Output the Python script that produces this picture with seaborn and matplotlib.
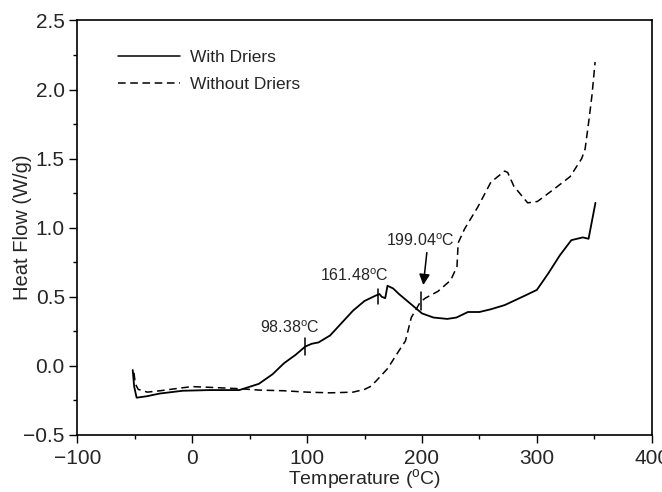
import matplotlib
matplotlib.use("Agg")
import matplotlib.pyplot as plt
import seaborn as sns
import pandas as pd
from matplotlib.ticker import MultipleLocator

# ---- data ----
with_T = [-51.8, -50.5, -48.4, -39.7, -28.2, -8.3, 15, 41, 58, 70, 80, 90, 98.4, 104, 110,
          120, 130, 140, 150, 160, 163, 165, 168, 170, 175, 180, 190, 200, 210, 222, 230,
          240, 250, 260, 272, 290, 300, 310, 320, 330, 340, 345, 348, 351]
with_HF = [-0.03, -0.15, -0.23, -0.22, -0.20, -0.18, -0.175, -0.175, -0.13, -0.06, 0.02, 0.08, 0.14, 0.16, 0.17,
           0.22, 0.31, 0.40, 0.47, 0.51, 0.52, 0.50, 0.49, 0.58, 0.56, 0.52, 0.45, 0.38, 0.35, 0.34, 0.35,
           0.39, 0.39, 0.41, 0.44, 0.51, 0.55, 0.67, 0.80, 0.91, 0.93, 0.92, 1.05, 1.18]

without_T = [-50.7, -49.5, -47, -39, -28, -10, 0, 15, 41, 58, 80, 100, 120, 140, 150, 155, 160,
             170, 180, 185.6, 190.7, 198.4, 202.8, 214, 225, 230.5, 231.5, 237, 248.6, 260, 272,
             274.6, 280, 292, 300.5, 315, 329, 339, 342, 345.5, 348, 350.7]
without_HF = [-0.05, -0.13, -0.17, -0.19, -0.18, -0.16, -0.15, -0.155, -0.165, -0.175, -0.18, -0.19, -0.195, -0.19, -0.17, -0.15, -0.11,
              -0.02, 0.11, 0.18, 0.35, 0.46, 0.49, 0.54, 0.62, 0.72, 0.89, 0.99, 1.15, 1.33, 1.41,
              1.40, 1.30, 1.18, 1.19, 1.28, 1.37, 1.50, 1.57, 1.79, 1.96, 2.20]

series_names = ["With Driers", "Without Driers"]
x_ticks = [-100, 0, 100, 200, 300, 400]
y_ticks = [-0.5, 0.0, 0.5, 1.0, 1.5, 2.0, 2.5]

annot_T = [98.38, 161.48, 199.04]
annot_labels = ["98.38$^{\\rm o}$C", "161.48$^{\\rm o}$C", "199.04$^{\\rm o}$C"]
mark_lo = [0.08, 0.45, 0.405]
mark_hi = [0.20, 0.56, 0.535]
label_T = [85, 141, 198.5]
label_HF = [0.275, 0.65, 0.905]
arrow_from = (204.5, 0.84)
arrow_to = (200.9, 0.565)

# ---- style ----
sns.set_style("ticks")
plt.rcParams["font.family"] = ["Liberation Sans", "DejaVu Sans"]
plt.rcParams["mathtext.fontset"] = "custom"
plt.rcParams["mathtext.rm"] = "Liberation Sans"
plt.rcParams["mathtext.it"] = "Liberation Sans:italic"

df1 = pd.DataFrame({"T": with_T, "HF": with_HF, "series": series_names[0]})
df2 = pd.DataFrame({"T": without_T, "HF": without_HF, "series": series_names[1]})
df = pd.concat([df1, df2], ignore_index=True)

fig = plt.figure(figsize=(6.62, 4.92), dpi=100)
ax = fig.add_axes([0.1168, 0.1159, 0.8677, 0.8425])

sns.lineplot(data=df, x="T", y="HF", hue="series", style="series",
             palette=["black", "black"], dashes=[(None, None), (5, 3)],
             sort=False, estimator=None, ax=ax, linewidth=1.3)

lines = ax.get_lines()
lines[0].set_linestyle("-")
lines[1].set_linestyle((0, (5, 3)))
lines[1].set_linewidth(1.1)

ax.set_xlim(-100, 400)
ax.set_ylim(-0.5, 2.5)
ax.set_xticks(x_ticks)
ax.set_yticks(y_ticks)
ax.xaxis.set_minor_locator(MultipleLocator(50))
ax.yaxis.set_minor_locator(MultipleLocator(0.25))
ax.tick_params(axis="both", which="major", labelsize=15, length=6, width=1, direction="out", color="black")
ax.tick_params(axis="x", which="major", pad=4)
ax.tick_params(axis="y", which="major", pad=3)
ax.tick_params(axis="both", which="minor", length=3, width=1, direction="out", color="black")
for s in ax.spines.values():
    s.set_linewidth(1.2)
    s.set_color("black")

ax.set_xlabel("Temperature ($^{\\rm o}$C)", fontsize=14)
ax.xaxis.set_label_coords(0.5, -0.078)
ax.set_ylabel("Heat Flow (W/g)", fontsize=14.5)
ax.yaxis.set_label_coords(-0.079, 0.5)

# legend
handles, labels = ax.get_legend_handles_labels()
leg = ax.legend(handles=handles[-2:], labels=series_names, loc="upper left", frameon=False,
                fontsize=12.5, handlelength=3.6, bbox_to_anchor=(0.043, 0.967),
                handletextpad=0.55, labelspacing=0.7)
for lh, ls in zip(leg.get_lines(), ["-", (0, (5, 3))]):
    lh.set_color("black")
    lh.set_linestyle(ls)
    lh.set_linewidth(1.1)

# annotation tick marks
for t, lo, hi in zip(annot_T, mark_lo, mark_hi):
    ax.plot([t, t], [lo, hi], color="black", linewidth=1.1)

for t, h, lab in zip(label_T, label_HF, annot_labels):
    ax.text(t, h, lab, ha="center", va="center", fontsize=11.5)

ax.annotate("", xy=arrow_to, xytext=arrow_from,
            arrowprops=dict(arrowstyle="-|>", color="black", lw=1.1, mutation_scale=16))

fig.savefig("out.png", dpi=100)
